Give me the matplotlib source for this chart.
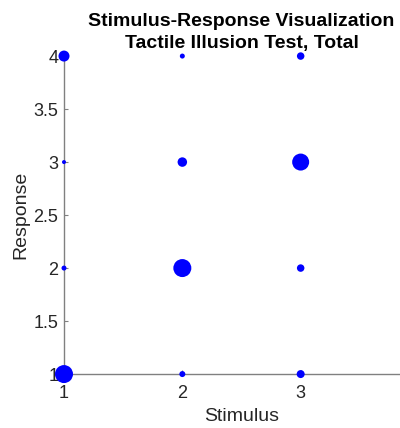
import numpy as np
import matplotlib
matplotlib.use('Agg')
import matplotlib.pyplot as plt

plt.rcParams['font.family'] = ['Liberation Sans', 'DejaVu Sans']

# stimulus / response pairs and marker diameters (px)
stimulus = [1, 1, 1, 1, 2, 2, 2, 2, 3, 3, 3, 3]
response = [1, 2, 3, 4, 1, 2, 3, 4, 1, 2, 3, 4]
diameter = [18, 5, 4, 11, 6, 18, 9.5, 5, 8, 7.5, 17, 7.5]

xticks = [1, 2, 3]
yticks = [1, 1.5, 2, 2.5, 3, 3.5, 4]

fig = plt.figure(figsize=(4.0, 4.28), dpi=100)
ax = fig.add_axes([0.16, 0.126, 0.8875, 0.743])

# diameter in px -> marker area in pt^2
d_pt = np.array(diameter) * 72.0 / 100.0
ax.scatter(stimulus, response, s=d_pt ** 2, c='#0000ff', edgecolors='none',
           zorder=3, clip_on=False)

ax.set_xlim(1, 4)
ax.set_ylim(1, 4)
ax.set_xticks(xticks)
ax.set_yticks(yticks)
ax.set_yticklabels(['1', '1.5', '2', '2.5', '3', '3.5', '4'])

for s in ['top', 'right']:
    ax.spines[s].set_visible(False)
for s in ['left', 'bottom']:
    ax.spines[s].set_color('#808080')
    ax.spines[s].set_linewidth(1.0)
ax.tick_params(direction='in', length=3, width=0.8, color='#808080',
               labelsize=13, labelcolor='#262626', pad=4)
ax.tick_params(axis='x', pad=8)

ax.set_xlabel('Stimulus', fontsize=14, color='#262626', labelpad=4)
ax.set_ylabel('Response', fontsize=14, color='#262626', labelpad=3)
ax.set_title('Stimulus-Response Visualization\nTactile Illusion Test, Total',
             fontsize=14, fontweight='bold', linespacing=1.35, pad=6)

fig.savefig('out.png', dpi=100)
